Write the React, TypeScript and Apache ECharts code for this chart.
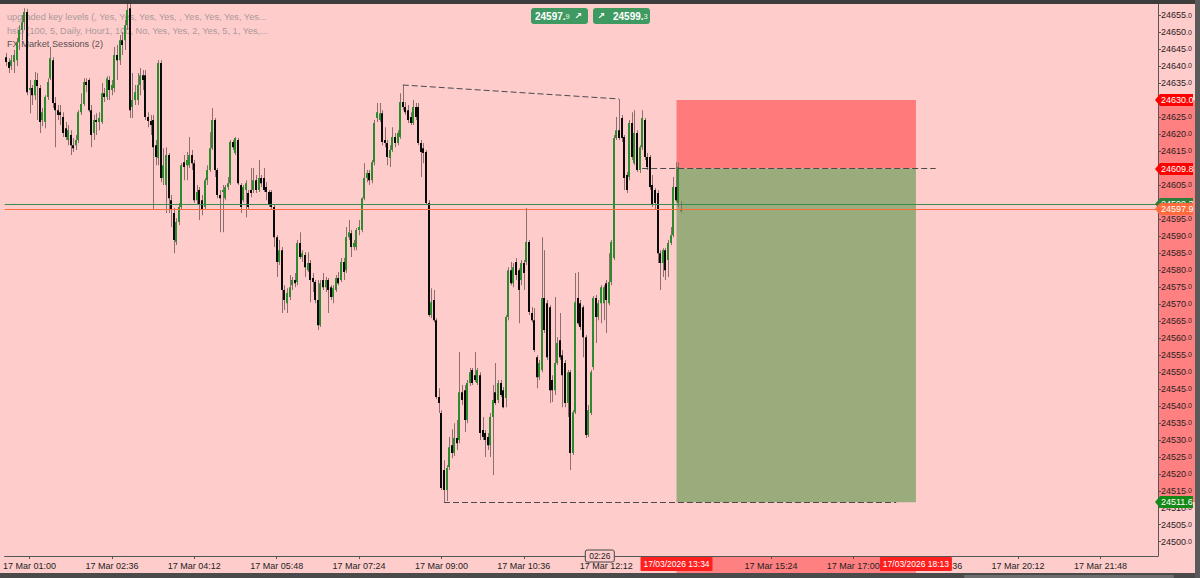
import React, { useEffect, useRef } from 'react';
import * as echarts from 'echarts';

// minutes after 17 Mar 01:00 of the first 3-minute bar
const FIRST_BAR_MINUTE = -27;
const BAR_MINUTES = 3;

// [open, high, low, close]
const OHLC: number[][] = [
  [24642.6, 24643.8, 24640.0, 24641.2], [24641.2, 24642.3, 24637.9, 24639.4], [24640.0, 24643.2, 24638.8, 24641.7],
  [24641.2, 24644.7, 24637.9, 24643.2], [24641.7, 24648.2, 24640.0, 24647.0], [24647.0, 24652.0, 24644.7, 24650.6],
  [24650.6, 24655.0, 24647.6, 24652.9], [24652.9, 24657.0, 24650.6, 24655.9], [24655.9, 24656.8, 24631.4, 24632.3],
  [24632.9, 24635.9, 24626.1, 24633.5], [24633.5, 24634.4, 24628.5, 24631.4], [24631.4, 24638.2, 24630.0, 24635.9],
  [24635.9, 24637.9, 24624.1, 24634.1], [24633.5, 24634.4, 24620.3, 24623.5], [24624.1, 24627.6, 24622.3, 24626.4],
  [24623.5, 24631.4, 24621.7, 24630.9], [24630.9, 24636.4, 24630.0, 24635.3], [24636.4, 24645.6, 24635.9, 24642.3],
  [24641.7, 24642.6, 24627.6, 24629.1], [24629.1, 24630.9, 24616.1, 24627.0], [24627.0, 24628.5, 24624.1, 24625.6],
  [24626.4, 24628.5, 24622.6, 24625.6], [24625.0, 24626.4, 24619.1, 24620.3], [24621.7, 24623.5, 24618.2, 24619.1],
  [24618.2, 24622.6, 24616.7, 24621.1], [24619.7, 24621.1, 24613.8, 24616.7], [24616.7, 24618.8, 24614.7, 24615.8],
  [24616.7, 24619.7, 24615.3, 24618.2], [24618.2, 24627.0, 24617.3, 24626.4], [24626.4, 24632.0, 24625.6, 24628.8],
  [24628.8, 24636.4, 24628.2, 24635.3], [24635.3, 24636.4, 24632.3, 24634.4], [24635.9, 24636.4, 24626.4, 24627.0],
  [24627.0, 24628.5, 24616.1, 24619.7], [24620.3, 24625.6, 24618.2, 24624.1], [24624.1, 24626.1, 24619.7, 24623.5],
  [24623.5, 24626.4, 24621.1, 24624.7], [24623.5, 24635.0, 24622.9, 24632.0], [24632.0, 24633.5, 24629.4, 24630.9],
  [24630.9, 24637.0, 24630.0, 24636.4], [24635.9, 24637.0, 24630.0, 24632.9], [24632.9, 24635.9, 24631.4, 24634.4],
  [24633.5, 24645.6, 24632.3, 24643.2], [24643.2, 24646.2, 24635.9, 24641.7], [24641.7, 24649.1, 24640.3, 24647.6],
  [24647.6, 24650.0, 24643.2, 24646.2], [24647.6, 24653.5, 24644.7, 24652.0], [24652.0, 24659.4, 24650.6, 24656.5],
  [24657.0, 24658.5, 24624.7, 24627.0], [24627.9, 24637.9, 24624.7, 24630.0], [24630.0, 24634.4, 24628.5, 24632.3],
  [24630.0, 24637.9, 24628.5, 24634.4], [24634.4, 24639.4, 24631.4, 24637.3], [24637.3, 24638.8, 24632.9, 24635.9],
  [24637.3, 24638.8, 24624.1, 24625.0], [24625.0, 24626.4, 24622.0, 24623.8], [24623.8, 24625.6, 24619.7, 24622.6],
  [24624.1, 24625.6, 24597.6, 24616.1], [24616.7, 24618.2, 24610.8, 24613.2], [24612.9, 24641.7, 24610.8, 24640.9],
  [24640.9, 24641.7, 24605.8, 24607.0], [24607.0, 24615.8, 24605.0, 24610.8], [24605.0, 24616.1, 24596.7, 24613.8],
  [24613.8, 24614.4, 24596.7, 24601.1], [24600.5, 24602.0, 24592.6, 24597.6], [24596.7, 24598.2, 24584.9, 24588.8],
  [24588.2, 24595.2, 24587.3, 24594.1], [24594.1, 24599.7, 24593.2, 24598.5], [24598.5, 24611.4, 24597.6, 24610.8],
  [24611.7, 24613.8, 24606.4, 24610.3], [24610.8, 24614.7, 24606.4, 24612.3], [24610.8, 24619.1, 24610.0, 24613.8],
  [24613.8, 24615.3, 24609.4, 24611.4], [24611.4, 24612.3, 24599.7, 24600.5], [24600.5, 24605.0, 24599.1, 24602.9],
  [24603.5, 24604.4, 24594.7, 24599.1], [24600.5, 24602.0, 24596.1, 24597.6], [24598.5, 24607.0, 24597.6, 24606.4],
  [24606.4, 24610.8, 24605.0, 24609.4], [24609.4, 24620.5, 24608.8, 24615.8], [24615.8, 24627.6, 24615.3, 24624.1],
  [24624.1, 24624.7, 24607.3, 24609.4], [24609.4, 24610.0, 24601.1, 24602.0], [24602.0, 24603.5, 24591.1, 24601.1],
  [24602.9, 24605.0, 24591.1, 24603.5], [24601.1, 24605.0, 24600.5, 24604.4], [24604.4, 24607.3, 24603.5, 24605.5],
  [24605.5, 24618.2, 24605.0, 24617.6], [24617.6, 24618.2, 24615.3, 24616.1], [24614.4, 24619.1, 24613.8, 24618.8],
  [24618.2, 24618.8, 24605.0, 24605.5], [24605.0, 24605.5, 24596.7, 24598.5], [24600.5, 24605.0, 24599.9, 24604.4],
  [24603.5, 24606.4, 24595.5, 24605.5], [24602.6, 24603.5, 24597.6, 24598.5], [24603.5, 24610.0, 24601.4, 24602.6],
  [24603.5, 24610.0, 24602.6, 24606.4], [24606.4, 24607.9, 24602.6, 24603.5], [24603.5, 24612.3, 24602.9, 24607.0],
  [24607.0, 24607.9, 24604.4, 24605.5], [24607.0, 24610.0, 24602.9, 24603.5], [24604.4, 24605.8, 24600.5, 24602.9],
  [24602.9, 24603.5, 24598.5, 24599.1], [24602.9, 24603.5, 24597.9, 24598.5], [24598.5, 24599.1, 24586.7, 24589.6],
  [24589.6, 24590.2, 24577.9, 24582.3], [24582.3, 24588.8, 24581.4, 24585.8], [24585.8, 24586.7, 24567.3, 24574.1],
  [24574.1, 24575.5, 24568.2, 24571.1], [24570.2, 24574.6, 24567.3, 24573.2], [24572.0, 24578.5, 24571.1, 24574.9],
  [24575.5, 24577.9, 24574.1, 24577.0], [24577.0, 24579.1, 24574.9, 24576.1], [24576.4, 24588.8, 24575.5, 24587.9],
  [24587.9, 24591.1, 24583.2, 24583.8], [24583.8, 24585.8, 24582.3, 24584.9], [24584.4, 24585.2, 24577.9, 24580.8],
  [24579.9, 24585.2, 24579.4, 24582.0], [24582.0, 24582.9, 24570.5, 24577.0], [24577.6, 24579.1, 24573.5, 24576.4],
  [24576.4, 24577.0, 24570.2, 24571.1], [24571.1, 24577.0, 24562.3, 24563.7], [24563.7, 24577.0, 24563.2, 24576.1],
  [24577.0, 24579.1, 24574.1, 24574.9], [24574.9, 24577.9, 24573.5, 24577.0], [24577.0, 24577.6, 24567.3, 24574.1],
  [24574.9, 24575.5, 24571.1, 24572.0], [24572.0, 24575.5, 24570.2, 24574.6], [24574.1, 24578.5, 24573.5, 24577.6],
  [24577.6, 24579.4, 24575.5, 24576.1], [24577.0, 24583.5, 24576.4, 24582.3], [24582.3, 24583.5, 24577.0, 24579.4],
  [24579.9, 24592.6, 24579.1, 24589.6], [24589.6, 24594.7, 24588.8, 24591.1], [24590.8, 24591.7, 24583.8, 24586.7],
  [24586.7, 24588.8, 24585.8, 24587.9], [24586.7, 24592.3, 24585.8, 24591.7], [24591.7, 24594.7, 24590.2, 24592.6],
  [24591.7, 24601.4, 24591.1, 24601.1], [24601.1, 24611.4, 24600.5, 24607.0], [24607.0, 24609.4, 24605.8, 24608.5],
  [24608.5, 24609.4, 24605.0, 24606.4], [24606.4, 24612.3, 24605.5, 24611.7], [24611.7, 24624.1, 24610.8, 24623.2],
  [24624.7, 24629.1, 24623.5, 24626.4], [24624.1, 24629.1, 24623.5, 24626.1], [24626.1, 24627.0, 24616.7, 24617.6],
  [24618.2, 24622.0, 24616.1, 24617.3], [24617.3, 24618.2, 24610.8, 24613.2], [24612.9, 24616.7, 24610.3, 24615.3],
  [24615.3, 24622.0, 24614.7, 24619.1], [24619.1, 24620.3, 24616.1, 24617.3], [24617.3, 24621.1, 24616.7, 24620.3],
  [24619.1, 24632.0, 24618.5, 24629.4], [24629.4, 24634.4, 24627.0, 24627.9], [24627.9, 24629.4, 24625.6, 24626.4],
  [24627.0, 24628.5, 24623.2, 24624.1], [24625.0, 24626.4, 24622.6, 24623.2], [24623.2, 24630.0, 24622.6, 24627.9],
  [24627.9, 24629.1, 24624.1, 24625.0], [24627.9, 24629.1, 24616.7, 24617.3], [24617.3, 24618.2, 24607.3, 24614.7],
  [24615.8, 24617.3, 24611.4, 24614.4], [24614.7, 24615.3, 24599.1, 24599.7], [24599.7, 24600.5, 24566.1, 24566.7],
  [24566.7, 24574.6, 24565.8, 24570.5], [24571.1, 24574.1, 24564.6, 24565.2], [24565.2, 24565.8, 24542.0, 24542.6],
  [24542.6, 24545.2, 24537.9, 24540.8], [24537.9, 24538.7, 24515.2, 24515.8], [24521.1, 24524.0, 24511.6, 24515.2],
  [24515.2, 24522.6, 24512.0, 24521.7], [24522.0, 24530.8, 24521.1, 24527.8], [24528.4, 24533.1, 24524.6, 24526.1],
  [24526.1, 24534.9, 24525.2, 24530.5], [24530.5, 24535.8, 24527.0, 24529.0], [24529.9, 24555.8, 24529.0, 24544.0],
  [24544.0, 24546.1, 24540.2, 24541.7], [24544.6, 24546.1, 24532.3, 24535.8], [24535.8, 24547.6, 24534.9, 24546.7],
  [24546.7, 24551.1, 24545.8, 24549.9], [24550.5, 24551.1, 24546.1, 24546.7], [24549.0, 24555.8, 24547.0, 24547.6],
  [24546.7, 24551.1, 24546.1, 24550.5], [24549.0, 24549.9, 24529.9, 24532.0], [24532.9, 24536.7, 24529.9, 24530.8],
  [24532.0, 24532.9, 24524.9, 24529.9], [24530.8, 24532.0, 24527.0, 24528.4], [24528.4, 24537.9, 24524.9, 24536.7],
  [24536.7, 24546.1, 24519.6, 24541.7], [24544.0, 24552.6, 24540.2, 24540.8], [24541.7, 24547.6, 24540.8, 24546.7],
  [24546.7, 24547.6, 24542.6, 24543.2], [24544.6, 24545.5, 24539.3, 24539.6], [24542.3, 24566.7, 24539.6, 24566.1],
  [24566.1, 24580.8, 24565.2, 24579.9], [24579.9, 24582.3, 24575.5, 24576.1], [24576.1, 24582.0, 24574.9, 24580.8],
  [24582.3, 24583.5, 24577.0, 24578.5], [24579.9, 24580.5, 24564.3, 24574.1], [24577.0, 24582.9, 24575.5, 24582.0],
  [24582.0, 24582.9, 24574.1, 24579.1], [24582.3, 24598.2, 24581.4, 24588.2], [24588.2, 24588.8, 24566.7, 24567.6],
  [24567.3, 24569.1, 24564.6, 24565.2], [24565.2, 24568.8, 24555.8, 24556.4], [24554.3, 24554.9, 24545.2, 24548.4],
  [24548.4, 24553.5, 24547.6, 24552.6], [24550.5, 24589.6, 24549.9, 24571.7], [24571.7, 24585.8, 24561.4, 24562.3],
  [24570.2, 24571.1, 24553.5, 24554.3], [24569.0, 24569.6, 24540.8, 24544.6], [24547.6, 24549.0, 24541.1, 24544.6],
  [24544.6, 24572.0, 24543.2, 24552.6], [24552.6, 24560.2, 24552.0, 24558.5], [24559.3, 24567.3, 24553.5, 24554.3],
  [24554.9, 24556.4, 24539.6, 24549.0], [24552.6, 24553.5, 24539.6, 24540.8], [24540.8, 24550.5, 24536.7, 24549.9],
  [24549.9, 24550.5, 24521.1, 24526.1], [24526.1, 24538.7, 24525.5, 24538.1], [24538.1, 24579.1, 24537.6, 24570.5],
  [24571.7, 24579.4, 24563.7, 24564.3], [24570.2, 24571.1, 24562.3, 24563.2], [24569.0, 24569.6, 24554.3, 24560.2],
  [24560.2, 24560.8, 24530.5, 24531.4], [24531.4, 24540.2, 24530.8, 24538.7], [24537.9, 24550.5, 24537.3, 24549.9],
  [24551.4, 24572.3, 24550.5, 24571.7], [24571.7, 24572.6, 24558.5, 24566.1], [24566.1, 24571.1, 24565.2, 24570.2],
  [24570.2, 24575.5, 24564.3, 24574.9], [24570.2, 24575.5, 24565.2, 24574.9], [24576.1, 24577.0, 24561.4, 24571.1],
  [24570.2, 24584.9, 24569.6, 24576.4], [24576.4, 24588.8, 24575.5, 24588.2], [24583.5, 24619.7, 24582.9, 24618.8],
  [24618.8, 24625.0, 24618.2, 24621.1], [24621.1, 24630.3, 24618.2, 24618.8], [24624.7, 24625.6, 24617.6, 24618.8],
  [24619.1, 24619.7, 24603.5, 24607.0], [24607.9, 24608.8, 24602.6, 24603.5], [24607.3, 24624.1, 24606.4, 24623.2],
  [24623.2, 24626.4, 24612.3, 24613.2], [24611.4, 24627.0, 24610.8, 24620.3], [24620.3, 24621.1, 24608.8, 24609.4],
  [24609.4, 24616.7, 24608.5, 24616.1], [24616.1, 24627.0, 24615.3, 24624.7], [24624.1, 24624.7, 24612.3, 24613.2],
  [24613.2, 24614.4, 24609.4, 24610.3], [24613.2, 24613.8, 24603.5, 24604.4], [24605.0, 24607.9, 24598.5, 24599.1],
  [24603.5, 24604.1, 24597.6, 24599.7], [24602.6, 24603.5, 24582.0, 24584.9], [24584.9, 24585.8, 24574.1, 24582.0],
  [24582.0, 24586.4, 24577.9, 24585.8], [24585.8, 24586.4, 24577.0, 24579.9], [24582.9, 24588.8, 24577.9, 24587.9],
  [24587.9, 24592.6, 24587.3, 24590.2], [24590.2, 24607.3, 24589.6, 24604.4], [24604.4, 24611.7, 24599.9, 24600.5],
  [24599.7, 24611.7, 24598.5, 24610.3], [24597.3, 24600.2, 24596.8, 24597.9],
];

// Price levels
const STOP_LOSS = 24630.0;
const ENTRY = 24609.8;
const TAKE_PROFIT = 24511.6;
const ASK = 24599.3;
const BID = 24597.9;

// Times (minutes after 17 Mar 01:00)
const POSITION_START = 754; // 13:34
const POSITION_END = 1033; // 18:13
const TREND_FROM: [number, number] = [435, 24634.4];
const TREND_TO: [number, number] = [687, 24630.3];
const ENTRY_LINE: [number, number] = [714, 1056];
const TARGET_LINE: [number, number] = [483, 1010];
const COUNTDOWN_AT = 664;

const TIME_TICKS = [0, 96, 192, 288, 384, 480, 576, 672, 768, 864, 960, 1056, 1152, 1248];
// 13:48 sits entirely under the position's start-time tag
const TIME_LABELS = [0, 96, 192, 288, 384, 480, 576, 672, 864, 960, 1056, 1152, 1248];
const PRICE_TICKS = [
  24500, 24505, 24510, 24515, 24520, 24525, 24530, 24535, 24540, 24545, 24550, 24555, 24560, 24565, 24570, 24575,
  24580, 24585, 24590, 24595, 24600, 24605, 24610, 24615, 24620, 24625, 24630, 24635, 24640, 24645, 24650, 24655,
];
// labels covered by the price tags are not drawn
const PRICE_LABELS = [
  24500, 24505, 24510, 24515, 24520, 24525, 24530, 24535, 24540, 24545, 24550, 24555, 24560, 24565, 24570, 24575,
  24580, 24585, 24590, 24595, 24605, 24615, 24620, 24625, 24635, 24640, 24645, 24650, 24655,
];

const LEGEND_LINES = [
  'upgraded key levels (, Yes, Yes, Yes, Yes, , Yes, Yes, Yes, Yes...',
  'hslb (100, 5, Daily, Hour1, 100, No, Yes, Yes, 2, Yes, 5, 1, Yes,...',
  'FX Market Sessions (2)',
];

const FONT = 'Liberation Sans';
const PINK = '#ffcccc';
const RED_ZONE = '#ff7b7b';
const GREEN_ZONE = '#9aac7b';
const WICK = '#8c6e6e';
const BULL = '#2d8a2d';
const BEAR = '#0a0a0a';

const pad = (n: number) => (n < 10 ? '0' + n : '' + n);
const clock = (m: number) => {
  const t = 60 + m;
  return pad(Math.floor(t / 60)) + ':' + pad(t % 60);
};

const withZ = (el: any, z: number): any => {
  const out = { ...el, z };
  if (el.children) out.children = el.children.map((c: any) => withZ(c, z));
  return out;
};

export default function App() {
  const ref = useRef<HTMLDivElement>(null);

  useEffect(() => {
    document.body.style.margin = '0';
    const chart = echarts.init(ref.current!, null, { renderer: 'svg' });

    const data = OHLC.map((d, i) => [FIRST_BAR_MINUTE + i * BAR_MINUTES, d[0], d[1], d[2], d[3]]);
    const dash = { type: [6, 3] as any, color: '#4a4a4a', width: 1 };

    chart.setOption({
      animation: false,
      backgroundColor: PINK,
      textStyle: { fontFamily: FONT },
      grid: { left: 0, right: 42, top: 4, bottom: 22, containLabel: false },
      xAxis: {
        type: 'value',
        min: -29.02,
        max: 1315.1,
        splitLine: { show: false },
        axisLine: { show: true, onZero: false, lineStyle: { color: '#555', width: 1 } },
        axisTick: { show: true, customValues: TIME_TICKS, length: 3, lineStyle: { color: '#555' } },
        axisLabel: {
          customValues: TIME_LABELS,
          formatter: (v: number) => '17 Mar ' + clock(v),
          fontSize: 9,
          color: '#1e1e1e',
          margin: 5,
          fontFamily: FONT,
        },
      },
      yAxis: {
        type: 'value',
        position: 'right',
        min: 24495.8,
        max: 24658.24,
        splitLine: { show: false },
        axisLine: { show: true, onZero: false, lineStyle: { color: '#555', width: 1 } },
        axisTick: { show: true, customValues: PRICE_TICKS, length: 3, lineStyle: { color: '#555' } },
        axisLabel: {
          customValues: PRICE_LABELS,
          margin: 3,
          formatter: (v: number) => '{a|' + Math.round(v) + '}{b|.0}',
          rich: {
            a: { fontSize: 9, color: '#2b2020', fontFamily: FONT },
            b: { fontSize: 7, color: '#2b2020', fontFamily: FONT },
          },
        },
      },
      series: [
        {
          type: 'custom',
          clip: true,
          z: 2,
          encode: { x: 0, y: [1, 2, 3, 4] },
          data,
          renderItem: (params: any, api: any) => {
            const t = api.value(0);
            const o = api.value(1);
            const h = api.value(2);
            const l = api.value(3);
            const c = api.value(4);
            const pO = api.coord([t, o]);
            const pC = api.coord([t, c]);
            const pH = api.coord([t, h]);
            const pL = api.coord([t, l]);
            const x = Math.round(pO[0]);
            const top = Math.min(pO[1], pC[1]);
            const bot = Math.max(pO[1], pC[1]);
            const up = c >= o;
            return {
              type: 'group',
              children: [
                {
                  type: 'rect',
                  shape: { x: x, y: pH[1], width: 1, height: Math.max(1, pL[1] - pH[1]) },
                  style: { fill: WICK },
                },
                {
                  type: 'rect',
                  shape: { x: x - 1, y: top, width: 2, height: Math.max(1, bot - top) },
                  style: { fill: up ? BULL : BEAR },
                },
              ],
            };
          },
          markArea: {
            silent: true,
            z: 1,
            data: [
              [
                { coord: [POSITION_START, STOP_LOSS], itemStyle: { color: RED_ZONE, opacity: 1 } },
                { coord: [POSITION_END, ENTRY] },
              ],
              [
                { coord: [POSITION_START, ENTRY], itemStyle: { color: GREEN_ZONE, opacity: 1 } },
                { coord: [POSITION_END, TAKE_PROFIT] },
              ],
            ],
          },
          markLine: {
            silent: true,
            symbol: ['none', 'none'],
            label: { show: false },
            lineStyle: dash,
            data: [
              { yAxis: ASK, lineStyle: { color: '#3b8d4f', width: 1, type: 'solid' } },
              { yAxis: BID, lineStyle: { color: '#ff6b3d', width: 1, type: 'solid' } },
              [{ coord: TREND_FROM }, { coord: TREND_TO }],
              [{ coord: [ENTRY_LINE[0], ENTRY] }, { coord: [ENTRY_LINE[1], ENTRY] }],
              [{ coord: [TARGET_LINE[0], TAKE_PROFIT] }, { coord: [TARGET_LINE[1], TAKE_PROFIT] }],
            ],
          },
        },
      ],
    });

    const px = (m: number) => chart.convertToPixel({ xAxisIndex: 0 } as any, m) as number;
    const py = (p: number) => chart.convertToPixel({ yAxisIndex: 0 } as any, p) as number;
    const right = px(1315.1);
    const bottom = py(24495.8);

    const tag = (price: number, color: string) => {
      const y = Math.round(py(price));
      return withZ(
        {
          type: 'group',
          children: [
            {
              type: 'polygon',
              shape: { points: [[right - 3, y], [right + 2, y - 6], [right + 35, y - 6], [right + 35, y + 6], [right + 2, y + 6]] },
              style: { fill: color },
            },
            {
              type: 'text',
              x: right + 3,
              y: y,
              style: { text: price.toFixed(1), fill: '#ffffff', fontSize: 9, fontFamily: FONT, verticalAlign: 'middle', align: 'left' },
            },
          ],
        },
        50,
      );
    };

    const timeTag = (m: number, label: string) => {
      const x = px(m);
      return withZ(
        {
          type: 'group',
          children: [
            { type: 'rect', shape: { x: x - 36, y: bottom + 1, width: 72, height: 14, r: 1 }, style: { fill: '#ff1f1f' } },
            {
              type: 'text',
              x: x,
              y: bottom + 8,
              style: { text: label, fill: '#ffffff', fontSize: 8.5, fontFamily: FONT, align: 'center', verticalAlign: 'middle' },
            },
          ],
        },
        50,
      );
    };

    const chip = (x: number, w: number, value: number, arrowX: number, textX: number) => {
      const s = value.toFixed(1);
      return withZ(
        {
          type: 'group',
          children: [
            { type: 'rect', shape: { x, y: 8, width: w, height: 16, r: 3 }, style: { fill: '#3f9a62' } },
            {
              type: 'text',
              x: arrowX,
              y: 16,
              style: { text: '↗', fill: '#ffffff', fontSize: 9, fontWeight: 'bold', fontFamily: 'DejaVu Sans', align: 'center', verticalAlign: 'middle' },
            },
            {
              type: 'text',
              x: textX,
              y: 16,
              style: {
                text: '{a|' + s.slice(0, -1) + '}{b|' + s.slice(-1) + '}',
                verticalAlign: 'middle',
                rich: {
                  a: { fontSize: 10, fontWeight: 'bold', fill: '#ffffff', fontFamily: FONT },
                  b: { fontSize: 7.5, fill: '#e8f5ec', fontFamily: FONT },
                },
              },
            },
          ],
        },
        50,
      );
    };

    const cx = px(COUNTDOWN_AT);

    const elements: any[] = [
      { type: 'rect', z: 60, shape: { x: 0, y: 0, width: 1200, height: 4 }, style: { fill: '#3c3c3c' } },
      { type: 'rect', z: 60, shape: { x: 0, y: 573, width: 1200, height: 5 }, style: { fill: '#4a4a4a' } },
      { type: 'rect', z: 61, shape: { x: 964, y: 575, width: 210, height: 3, r: 1 }, style: { fill: '#6e6e6e' } },
      { type: 'rect', z: 60, shape: { x: 1195, y: 0, width: 5, height: 578 }, style: { fill: '#5a5a5a' } },
      {
        type: 'rect',
        z: -1,
        shape: { x: right + 1, y: py(STOP_LOSS), width: 1195 - right - 1, height: py(TAKE_PROFIT) - py(STOP_LOSS) },
        style: { fill: '#ff8080' },
      },
      {
        type: 'rect',
        z: -1,
        shape: { x: px(POSITION_START), y: bottom + 1, width: px(POSITION_END) - px(POSITION_START), height: 573 - bottom - 1 },
        style: { fill: '#ff8080' },
      },
      ...LEGEND_LINES.map((t, i) => ({
        type: 'text',
        z: 0,
        x: 7,
        y: 17 + i * 13.5,
        style: {
          text: t,
          fill: i < 2 ? '#a89a9a' : '#5a5050',
          fontSize: 9.2,
          fontFamily: FONT,
          verticalAlign: 'middle',
        },
      })),
      chip(531, 57, BID, 578, 535),
      chip(593, 57, ASK, 601, 613),
      withZ(
        {
          type: 'group',
          children: [
            { type: 'rect', shape: { x: cx - 14, y: bottom - 6, width: 29, height: 12, r: 2 }, style: { fill: PINK, stroke: '#444', lineWidth: 1 } },
            {
              type: 'text',
              x: cx + 0.5,
              y: bottom,
              style: { text: '02:26', fill: '#222', fontSize: 8.5, fontFamily: FONT, align: 'center', verticalAlign: 'middle' },
            },
          ],
        },
        55,
      ),
      timeTag(POSITION_START, '17/03/2026 ' + clock(POSITION_START)),
      timeTag(POSITION_END, '17/03/2026 ' + clock(POSITION_END)),
      tag(STOP_LOSS, '#ff0000'),
      tag(ENTRY, '#ff0000'),
      tag(ASK, '#2f7d3a'),
      tag(BID, '#ff6b3d'),
      tag(TAKE_PROFIT, '#168a16'),
    ];

    chart.setOption({ graphic: { elements } });

    return () => chart.dispose();
  }, []);

  return <div ref={ref} style={{ width: 1200, height: 578 }} />;
}
